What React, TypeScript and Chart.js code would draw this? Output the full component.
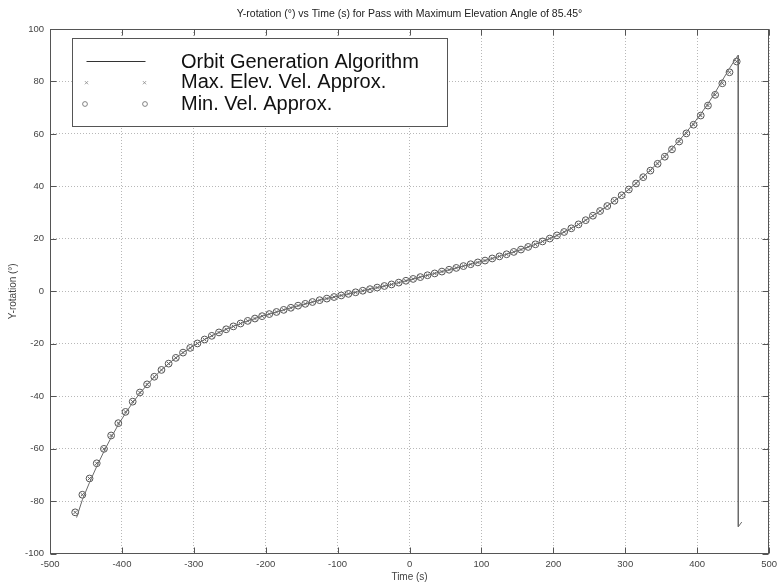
import React, { useEffect, useRef } from "react";
import { Chart, registerables } from "chart.js";

Chart.register(...registerables);

const TITLE = "Y-rotation (°) vs Time (s) for Pass with Maximum Elevation Angle of 85.45°";
const X_LABEL = "Time (s)";
const Y_LABEL = "Y-rotation (°)";
const LEGEND_LABELS = ["Orbit Generation Algorithm", "Max. Elev. Vel. Approx.", "Min. Vel. Approx."];

const X_TICKS = [-500, -400, -300, -200, -100, 0, 100, 200, 300, 400, 500];
const Y_TICKS = [-100, -80, -60, -40, -20, 0, 20, 40, 60, 80, 100];

// Approximation sample times (s)
const approxTimes = [
  -465, -455, -445, -435, -425, -415, -405, -395, -385, -375,
  -365, -355, -345, -335, -325, -315, -305, -295, -285, -275,
  -265, -255, -245, -235, -225, -215, -205, -195, -185, -175,
  -165, -155, -145, -135, -125, -115, -105, -95, -85, -75,
  -65, -55, -45, -35, -25, -15, -5, 5, 15, 25,
  35, 45, 55, 65, 75, 85, 95, 105, 115, 125,
  135, 145, 155, 165, 175, 185, 195, 205, 215, 225,
  235, 245, 255, 265, 275, 285, 295, 305, 315, 325,
  335, 345, 355, 365, 375, 385, 395, 405, 415, 425,
  435, 445, 455,
];

const maxElevVelApprox = [
  -84.3, -77.6, -71.4, -65.6, -60.1, -55.0, -50.3, -46.0, -42.1, -38.6,
  -35.5, -32.6, -30.0, -27.6, -25.4, -23.4, -21.6, -19.9, -18.4, -17.0,
  -15.7, -14.5, -13.4, -12.3, -11.3, -10.4, -9.5, -8.7, -7.9, -7.1,
  -6.3, -5.5, -4.8, -4.1, -3.4, -2.8, -2.2, -1.6, -1.0, -0.4,
  0.2, 0.8, 1.4, 2.0, 2.6, 3.3, 4.0, 4.7, 5.4, 6.1,
  6.8, 7.5, 8.2, 8.9, 9.6, 10.3, 11.0, 11.7, 12.5, 13.3,
  14.1, 15.0, 15.9, 16.9, 17.9, 19.0, 20.1, 21.3, 22.6, 24.0,
  25.5, 27.1, 28.8, 30.6, 32.5, 34.5, 36.6, 38.8, 41.1, 43.5,
  46.0, 48.6, 51.3, 54.1, 57.1, 60.2, 63.5, 67.0, 70.8, 74.9,
  79.3, 83.5, 87.6,
];

const minVelApprox = [
  -84.3, -77.6, -71.4, -65.6, -60.1, -55.0, -50.3, -46.0, -42.1, -38.6,
  -35.5, -32.6, -30.0, -27.6, -25.4, -23.4, -21.6, -19.9, -18.4, -17.0,
  -15.7, -14.5, -13.4, -12.3, -11.3, -10.4, -9.5, -8.7, -7.9, -7.1,
  -6.3, -5.5, -4.8, -4.1, -3.4, -2.8, -2.2, -1.6, -1.0, -0.4,
  0.2, 0.8, 1.4, 2.0, 2.6, 3.3, 4.0, 4.7, 5.4, 6.1,
  6.8, 7.5, 8.2, 8.9, 9.6, 10.3, 11.0, 11.7, 12.5, 13.3,
  14.1, 15.0, 15.9, 16.9, 17.9, 19.0, 20.1, 21.3, 22.6, 24.0,
  25.5, 27.1, 28.8, 30.6, 32.5, 34.5, 36.6, 38.8, 41.1, 43.5,
  46.0, 48.6, 51.3, 54.1, 57.1, 60.2, 63.5, 67.0, 70.8, 74.9,
  79.3, 83.5, 87.6,
];

// Orbit generation algorithm (solid line)
const orbitTimes = [
  -463, -455, -445, -435, -425, -415, -405, -395, -385, -375,
  -365, -355, -345, -335, -325, -315, -305, -295, -285, -275,
  -265, -255, -245, -235, -225, -215, -205, -195, -185, -175,
  -165, -155, -145, -135, -125, -115, -105, -95, -85, -75,
  -65, -55, -45, -35, -25, -15, -5, 5, 15, 25,
  35, 45, 55, 65, 75, 85, 95, 105, 115, 125,
  135, 145, 155, 165, 175, 185, 195, 205, 215, 225,
  235, 245, 255, 265, 275, 285, 295, 305, 315, 325,
  335, 345, 355, 365, 375, 385, 395, 405, 415, 425,
  435, 445, 455, 457, 457.2, 462,
];

const orbitYRotation = [
  -86.3, -79.5, -72.9, -66.8, -61.1, -55.8, -50.9, -46.5, -42.5, -38.9,
  -35.7, -32.7, -30.0, -27.6, -25.4, -23.4, -21.6, -19.9, -18.4, -17.0,
  -15.7, -14.5, -13.4, -12.3, -11.3, -10.4, -9.5, -8.7, -7.9, -7.1,
  -6.3, -5.5, -4.8, -4.1, -3.4, -2.8, -2.2, -1.6, -1.0, -0.4,
  0.2, 0.8, 1.4, 2.0, 2.6, 3.3, 4.0, 4.7, 5.4, 6.1,
  6.8, 7.5, 8.2, 8.9, 9.6, 10.3, 11.0, 11.7, 12.5, 13.3,
  14.1, 15.0, 15.9, 16.9, 17.9, 19.0, 20.1, 21.3, 22.6, 24.0,
  25.5, 27.1, 28.8, 30.6, 32.5, 34.5, 36.6, 38.9, 41.2, 43.7,
  46.2, 48.9, 51.6, 54.5, 57.5, 60.7, 64.0, 67.6, 71.5, 75.8,
  80.4, 85.0, 89.3, 90.0, -89.8, -88.0,
];

const FONT = "'Liberation Sans', Arial, Helvetica, sans-serif";
const AXIS_COLOR = "#555555";
const MARK_COLOR = "#555555";
const LABEL_COLOR = "#444444";

const boxPlugin = {
  id: "matlabBox",
  beforeDatasetsDraw(chart: any) {
    const { ctx, chartArea: a, scales } = chart;
    ctx.save();
    ctx.strokeStyle = AXIS_COLOR;
    ctx.lineWidth = 1;
    const L = Math.round(a.left) + 0.5;
    const R = Math.round(a.right) - 0.5;
    const T = Math.round(a.top) + 0.5;
    const B = Math.round(a.bottom) - 0.5;
    ctx.strokeRect(L, T, R - L, B - T);
    const tl = 6;
    ctx.beginPath();
    for (const v of X_TICKS) {
      const px = Math.round(scales.x.getPixelForValue(v)) + 0.5;
      ctx.moveTo(px, B);
      ctx.lineTo(px, B - tl);
      ctx.moveTo(px, T);
      ctx.lineTo(px, T + tl);
    }
    for (const v of Y_TICKS) {
      const py = Math.round(scales.y.getPixelForValue(v)) + 0.5;
      ctx.moveTo(L, py);
      ctx.lineTo(L + tl, py);
      ctx.moveTo(R, py);
      ctx.lineTo(R - tl, py);
    }
    ctx.stroke();
    ctx.restore();
  },
  afterDraw(chart: any) {
    const { ctx } = chart;
    ctx.save();
    // legend box
    const bx = 72.5, by = 38.5, bw = 375, bh = 88;
    ctx.fillStyle = "#ffffff";
    ctx.fillRect(bx, by, bw, bh);
    ctx.strokeStyle = AXIS_COLOR;
    ctx.lineWidth = 1;
    ctx.strokeRect(bx, by, bw, bh);
    const textRows = [62, 82.5, 104];
    const markRows = [61, 82.7, 104];
    const mx1 = 86.5, mx2 = 144.5;
    // line sample
    ctx.strokeStyle = "#333333";
    ctx.beginPath();
    ctx.moveTo(mx1, markRows[0] + 0.5);
    ctx.lineTo(mx2 + 1, markRows[0] + 0.5);
    ctx.stroke();
    // x markers
    ctx.strokeStyle = "#888888";
    ctx.lineWidth = 0.8;
    const r = 1.6;
    for (const mx of [mx1, mx2]) {
      ctx.beginPath();
      ctx.moveTo(mx - r, markRows[1] - r);
      ctx.lineTo(mx + r, markRows[1] + r);
      ctx.moveTo(mx - r, markRows[1] + r);
      ctx.lineTo(mx + r, markRows[1] - r);
      ctx.stroke();
    }
    // circle markers
    ctx.strokeStyle = "#666666";
    for (const mx of [mx1 - 1.5, mx2 + 0.5]) {
      ctx.beginPath();
      ctx.arc(mx, markRows[2], 2.4, 0, Math.PI * 2);
      ctx.stroke();
    }
    ctx.fillStyle = "#111111";
    ctx.font = `20px ${FONT}`;
    ctx.textBaseline = "middle";
    ctx.textAlign = "left";
    LEGEND_LABELS.forEach((t, i) => ctx.fillText(t, 181, textRows[i]));
    ctx.restore();
  },
};

export default function App() {
  const ref = useRef<HTMLCanvasElement | null>(null);
  useEffect(() => {
    if (!ref.current) return;
    const orbitData = orbitTimes.map((t, i) => ({ x: t, y: orbitYRotation[i] }));
    const maxData = approxTimes.map((t, i) => ({ x: t, y: maxElevVelApprox[i] }));
    const minData = approxTimes.map((t, i) => ({ x: t, y: minVelApprox[i] }));
    const chart = new Chart(ref.current, {
      type: "scatter",
      data: {
        datasets: [
          {
            label: LEGEND_LABELS[0],
            data: orbitData,
            showLine: true,
            borderColor: "#6a6a6a",
            borderWidth: 1,
            pointRadius: 0,
            tension: 0,
          },
          {
            label: LEGEND_LABELS[1],
            data: maxData,
            showLine: false,
            pointStyle: "crossRot",
            pointRadius: 2.3,
            borderColor: MARK_COLOR,
            backgroundColor: "transparent",
            pointBorderWidth: 0.9,
          },
          {
            label: LEGEND_LABELS[2],
            data: minData,
            showLine: false,
            pointStyle: "circle",
            pointRadius: 3.4,
            borderColor: MARK_COLOR,
            backgroundColor: "transparent",
            pointBorderWidth: 1,
          },
        ],
      },
      options: {
        responsive: false,
        animation: false,
        events: [],
        layout: { padding: { left: 0, right: 10, top: 0, bottom: 0 } },
        plugins: {
          legend: { display: false },
          tooltip: { enabled: false },
          title: {
            display: true,
            text: TITLE,
            fullSize: false,
            color: "#222222",
            font: { family: FONT, size: 10.5, weight: "normal" },
            padding: { top: 8.2, bottom: 8.2 },
          },
        },
        scales: {
          x: {
            type: "linear",
            min: -500,
            max: 500,
            afterFit: (s: any) => {
              s.height = 33.5;
            },
            ticks: {
              stepSize: 100,
              padding: 5,
              color: LABEL_COLOR,
              font: { family: FONT, size: 9.5 },
              maxRotation: 0,
            },
            grid: { color: "#b8b8b8", lineWidth: 1, drawTicks: false },
            border: { display: false, dash: [1, 2] },
            title: {
              display: true,
              text: X_LABEL,
              color: LABEL_COLOR,
              font: { family: FONT, size: 10 },
              padding: { top: 0, bottom: 4 },
            },
          },
          y: {
            type: "linear",
            min: -100,
            max: 100,
            afterFit: (s: any) => {
              s.width = 50;
            },
            ticks: {
              stepSize: 20,
              padding: 6,
              color: LABEL_COLOR,
              font: { family: FONT, size: 9.5 },
            },
            grid: { color: "#b8b8b8", lineWidth: 1, drawTicks: false },
            border: { display: false, dash: [1, 2] },
            title: {
              display: true,
              text: Y_LABEL,
              color: LABEL_COLOR,
              font: { family: FONT, size: 10 },
              padding: { top: 7.5, bottom: 0 },
            },
          },
        },
      },
      plugins: [boxPlugin],
    });
    return () => chart.destroy();
  }, []);
  return (
    <div style={{ position: "absolute", left: 0, top: 0, width: 782, height: 587, background: "#ffffff" }}>
      <canvas ref={ref} width={782} height={587} style={{ display: "block" }} />
    </div>
  );
}
